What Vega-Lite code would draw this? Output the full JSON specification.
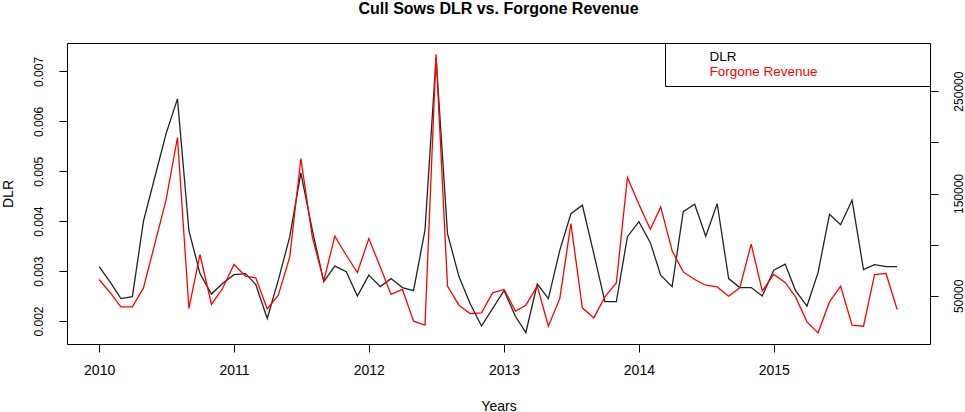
{
  "$schema": "https://vega.github.io/schema/vega-lite/v6.json",
  "autosize": "none",
  "width": 863,
  "height": 301,
  "padding": {"left": 67, "top": 43, "right": 35, "bottom": 68},
  "title": {
    "text": "Cull Sows DLR vs. Forgone Revenue",
    "fontSize": 16,
    "fontWeight": "bold",
    "anchor": "middle",
    "offset": 26,
    "color": "black"
  },
  "config": {
    "font": "Liberation Sans",
    "view": {"stroke": "black", "strokeWidth": 1},
    "axis": {
      "grid": false,
      "domain": false,
      "tickSize": 8,
      "tickColor": "black",
      "labelColor": "black",
      "titleColor": "black",
      "titleFontWeight": "normal",
      "titleFontSize": 14
    }
  },
  "data": {
    "values": [
      {"date": "2010-01-01", "dlr": 0.00309, "revenue": 66000},
      {"date": "2010-02-01", "dlr": 0.00277, "revenue": 52600},
      {"date": "2010-03-01", "dlr": 0.00245, "revenue": 39300},
      {"date": "2010-04-01", "dlr": 0.00249, "revenue": 39300},
      {"date": "2010-05-01", "dlr": 0.00400, "revenue": 57800},
      {"date": "2010-06-01", "dlr": 0.00489, "revenue": 101200},
      {"date": "2010-07-01", "dlr": 0.00575, "revenue": 143500},
      {"date": "2010-08-01", "dlr": 0.00645, "revenue": 204700},
      {"date": "2010-09-01", "dlr": 0.00381, "revenue": 37700},
      {"date": "2010-10-01", "dlr": 0.00295, "revenue": 90400},
      {"date": "2010-11-01", "dlr": 0.00254, "revenue": 41600},
      {"date": "2010-12-01", "dlr": 0.00275, "revenue": 57200},
      {"date": "2011-01-01", "dlr": 0.00293, "revenue": 80700},
      {"date": "2011-02-01", "dlr": 0.00295, "revenue": 69200},
      {"date": "2011-03-01", "dlr": 0.00273, "revenue": 67600},
      {"date": "2011-04-01", "dlr": 0.00205, "revenue": 37300},
      {"date": "2011-05-01", "dlr": 0.00282, "revenue": 50700},
      {"date": "2011-06-01", "dlr": 0.00369, "revenue": 88100},
      {"date": "2011-07-01", "dlr": 0.00497, "revenue": 184200},
      {"date": "2011-08-01", "dlr": 0.00382, "revenue": 107600},
      {"date": "2011-09-01", "dlr": 0.00279, "revenue": 64600},
      {"date": "2011-10-01", "dlr": 0.00310, "revenue": 108300},
      {"date": "2011-11-01", "dlr": 0.00299, "revenue": 89700},
      {"date": "2011-12-01", "dlr": 0.00250, "revenue": 72800},
      {"date": "2012-01-01", "dlr": 0.00292, "revenue": 106000},
      {"date": "2012-02-01", "dlr": 0.00269, "revenue": 78300},
      {"date": "2012-03-01", "dlr": 0.00285, "revenue": 51400},
      {"date": "2012-04-01", "dlr": 0.00267, "revenue": 56300},
      {"date": "2012-05-01", "dlr": 0.00261, "revenue": 25300},
      {"date": "2012-06-01", "dlr": 0.00382, "revenue": 21400},
      {"date": "2012-07-01", "dlr": 0.00728, "revenue": 286000},
      {"date": "2012-08-01", "dlr": 0.00375, "revenue": 59500},
      {"date": "2012-09-01", "dlr": 0.00289, "revenue": 40900},
      {"date": "2012-10-01", "dlr": 0.00235, "revenue": 32800},
      {"date": "2012-11-01", "dlr": 0.00190, "revenue": 33400},
      {"date": "2012-12-01", "dlr": 0.00225, "revenue": 52900},
      {"date": "2013-01-01", "dlr": 0.00261, "revenue": 56300},
      {"date": "2013-02-01", "dlr": 0.00209, "revenue": 35100},
      {"date": "2013-03-01", "dlr": 0.00177, "revenue": 40900},
      {"date": "2013-04-01", "dlr": 0.00274, "revenue": 59500},
      {"date": "2013-05-01", "dlr": 0.00245, "revenue": 20400},
      {"date": "2013-06-01", "dlr": 0.00342, "revenue": 47500},
      {"date": "2013-07-01", "dlr": 0.00415, "revenue": 120700},
      {"date": "2013-08-01", "dlr": 0.00432, "revenue": 38300},
      {"date": "2013-09-01", "dlr": 0.00335, "revenue": 28500},
      {"date": "2013-10-01", "dlr": 0.00239, "revenue": 49000},
      {"date": "2013-11-01", "dlr": 0.00239, "revenue": 62700},
      {"date": "2013-12-01", "dlr": 0.00369, "revenue": 165600},
      {"date": "2014-01-01", "dlr": 0.00399, "revenue": 139500},
      {"date": "2014-02-01", "dlr": 0.00357, "revenue": 115100},
      {"date": "2014-03-01", "dlr": 0.00292, "revenue": 136900},
      {"date": "2014-04-01", "dlr": 0.00269, "revenue": 94000},
      {"date": "2014-05-01", "dlr": 0.00419, "revenue": 73400},
      {"date": "2014-06-01", "dlr": 0.00434, "revenue": 66000},
      {"date": "2014-07-01", "dlr": 0.00370, "revenue": 60400},
      {"date": "2014-08-01", "dlr": 0.00435, "revenue": 58800},
      {"date": "2014-09-01", "dlr": 0.00285, "revenue": 49700},
      {"date": "2014-10-01", "dlr": 0.00267, "revenue": 57800},
      {"date": "2014-11-01", "dlr": 0.00267, "revenue": 100500},
      {"date": "2014-12-01", "dlr": 0.00250, "revenue": 54900},
      {"date": "2015-01-01", "dlr": 0.00302, "revenue": 70900},
      {"date": "2015-02-01", "dlr": 0.00314, "revenue": 63100},
      {"date": "2015-03-01", "dlr": 0.00261, "revenue": 49000},
      {"date": "2015-04-01", "dlr": 0.00230, "revenue": 24600},
      {"date": "2015-05-01", "dlr": 0.00297, "revenue": 13900},
      {"date": "2015-06-01", "dlr": 0.00414, "revenue": 44100},
      {"date": "2015-07-01", "dlr": 0.00393, "revenue": 59500},
      {"date": "2015-08-01", "dlr": 0.00442, "revenue": 21400},
      {"date": "2015-09-01", "dlr": 0.00303, "revenue": 20400},
      {"date": "2015-10-01", "dlr": 0.00313, "revenue": 70900},
      {"date": "2015-11-01", "dlr": 0.00309, "revenue": 71900},
      {"date": "2015-12-01", "dlr": 0.00309, "revenue": 36700}
    ]
  },
  "encoding": {
    "x": {
      "field": "date",
      "type": "temporal",
      "scale": {
        "type": "utc",
        "domain": [1254787200000, 1456617600000]
      },
      "axis": {
        "title": "Years",
        "format": "%Y",
        "formatType": "utc",
        "values": [1262304000000, 1293840000000, 1325376000000, 1356998400000, 1388534400000, 1420070400000],
        "labelFontSize": 14,
        "labelPadding": 11,
        "titlePadding": 22
      }
    }
  },
  "layer": [
    {
      "mark": {"type": "line", "strokeWidth": 1.3},
      "encoding": {
        "y": {
          "field": "dlr",
          "type": "quantitative",
          "scale": {"domain": [0.00154, 0.00757], "nice": false, "zero": false},
          "axis": {
            "orient": "left",
            "title": "DLR",
            "values": [0.002, 0.003, 0.004, 0.005, 0.006, 0.007],
            "format": ".3f",
            "labelAngle": -90,
            "labelFontSize": 12,
            "labelPadding": 14,
            "titlePadding": 17
          }
        },
        "color": {
          "datum": "DLR",
          "type": "nominal",
          "scale": {"domain": ["DLR", "Forgone Revenue"], "range": ["#222222", "red"]},
          "legend": {
            "orient": "top-right",
            "offset": 0,
            "title": " ",
            "titleOrient": "right",
            "titlePadding": 105,
            "strokeColor": "black",
            "fillColor": "white",
            "padding": 7,
            "symbolOpacity": 0,
            "symbolSize": 100,
            "labelOffset": 24,
            "labelFontSize": 13.5,
            "rowPadding": 0,
            "encode": {
              "labels": {
                "update": {"fill": {"signal": "datum.value === 'DLR' ? 'black' : 'red'"}}
              }
            }
          }
        }
      }
    },
    {
      "mark": {"type": "line", "strokeWidth": 1.3},
      "encoding": {
        "y": {
          "field": "revenue",
          "type": "quantitative",
          "scale": {"domain": [3000, 297000], "nice": false, "zero": false},
          "axis": {
            "orient": "right",
            "title": null,
            "values": [50000, 100000, 150000, 200000, 250000],
            "format": "d",
            "labelExpr": "datum.value % 100000 === 0 ? '' : datum.label",
            "labelAngle": -90,
            "labelFontSize": 12,
            "labelPadding": 15
          }
        },
        "color": {"datum": "Forgone Revenue", "type": "nominal"}
      }
    }
  ],
  "resolve": {"scale": {"y": "independent"}}
}
